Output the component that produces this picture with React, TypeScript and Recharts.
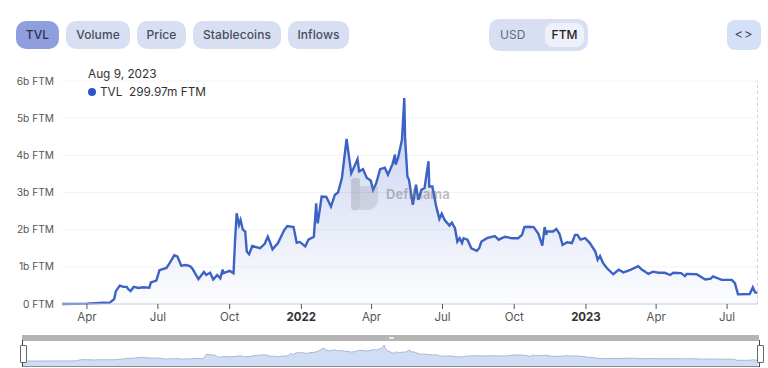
import { Area, AreaChart, CartesianGrid, ReferenceLine, XAxis, YAxis } from 'recharts'

// days since Jan 1 2021
const days = [
  58, 90, 111, 119, 125, 127, 132, 137, 141, 143, 146, 150, 156, 162, 170, 172, 179, 183, 192, 196, 202, 206, 211, 217,
  222, 225, 233, 240, 243, 248, 252, 257, 261, 264, 265, 273, 278, 280, 282, 285, 287, 290, 293, 295, 298, 302, 312,
  318, 322, 325, 328, 335, 343, 347, 355, 359, 363, 370, 374, 381, 384, 385, 386, 391, 397, 403, 408, 412, 417, 423,
  426, 429, 434, 437, 439, 444, 449, 454, 457, 461, 466, 472, 476, 482, 485, 486, 489, 494, 495, 497, 498, 501, 503,
  508, 512, 515, 519, 523, 528, 529, 533, 538, 542, 545, 549, 555, 558, 562, 565, 568, 571, 573, 578, 583, 590, 593,
  596, 603, 613, 618, 626, 635, 643, 648, 651, 656, 663, 669, 674, 677, 679, 680, 684, 688, 692, 696, 700, 706, 712,
  716, 719, 723, 729, 735, 742, 745, 748, 752, 757, 765, 772, 778, 787, 797, 802, 806, 810, 816, 823, 831, 838, 842,
  852, 857, 859, 872, 883, 890, 893, 904, 917, 921, 925, 940, 944, 947, 950,
]
const tvl = [
  0, 0.01, 0.035, 0.03, 0.135, 0.34, 0.495, 0.46, 0.46, 0.4, 0.35, 0.46, 0.43, 0.45, 0.44, 0.58, 0.63, 0.91, 0.97, 1.1,
  1.31, 1.28, 1.03, 1.05, 1.02, 0.96, 0.67, 0.86, 0.78, 0.84, 0.66, 0.78, 0.69, 0.93, 0.83, 0.89, 0.83, 1.73, 2.44,
  2.13, 2.26, 2.0, 1.95, 1.41, 1.34, 1.56, 1.5, 1.62, 1.81, 1.65, 1.47, 1.64, 1.99, 2.1, 2.07, 1.65, 1.67, 1.55, 1.73,
  1.81, 2.71, 2.31, 2.17, 2.89, 2.88, 2.62, 2.94, 3.0, 3.39, 4.44, 3.97, 3.52, 3.75, 3.9, 3.57, 3.63, 3.39, 3.32, 3.07,
  3.25, 3.63, 3.67, 3.48, 3.77, 4.02, 3.75, 3.93, 4.42, 4.78, 5.54, 4.47, 3.43, 3.34, 2.67, 3.21, 2.8, 3.07, 3.12, 3.84,
  3.16, 3.16, 2.62, 2.29, 2.43, 2.25, 2.11, 2.19, 2.04, 1.68, 1.77, 1.64, 1.77, 1.73, 1.5, 1.43, 1.5, 1.68, 1.77, 1.83,
  1.73, 1.81, 1.77, 1.77, 1.86, 2.07, 2.08, 2.07, 1.89, 1.57, 2.07, 1.86, 1.95, 1.95, 1.95, 2.02, 1.89, 1.59, 1.66,
  1.64, 1.86, 1.86, 1.73, 1.77, 1.64, 1.41, 1.19, 1.29, 1.1, 0.96, 0.8, 0.92, 0.85, 0.92, 1.02, 0.92, 0.87, 0.81, 0.87,
  0.84, 0.84, 0.78, 0.84, 0.83, 0.75, 0.81, 0.8, 0.66, 0.68, 0.74, 0.65, 0.65, 0.56, 0.26, 0.27, 0.45, 0.31, 0.3,
]
const xTicks = [90, 181, 273, 365, 455, 546, 638, 730, 820, 911]
const xLabels = ['Apr', 'Jul', 'Oct', '2022', 'Apr', 'Jul', 'Oct', '2023', 'Apr', 'Jul']
const yTicks = [0, 1, 2, 3, 4, 5, 6]
const tabs = [
  { label: 'TVL', left: 16, width: 43, active: true },
  { label: 'Volume', left: 66, width: 64 },
  { label: 'Price', left: 137, width: 49 },
  { label: 'Stablecoins', left: 193, width: 88 },
  { label: 'Inflows', left: 288, width: 61 },
]

const data = days.map((day, i) => ({ day, tvl: tvl[i] }))
const font = 'Inter, "Noto Sans", sans-serif'

function XTick({ x, y, payload }: any) {
  const label = xLabels[xTicks.indexOf(payload.value)]
  const isYear = label.length === 4
  return (
    <text x={x} y={y + 10} textAnchor="middle" fontFamily={font} fontSize={11.5} fontWeight={isYear ? 700 : 400} fill={isYear ? '#333' : '#555'}>
      {label}
    </text>
  )
}

function box(left: number, top: number, width: number, height: number, style: React.CSSProperties = {}) {
  return { position: 'absolute', left, top, width, height, ...style } as React.CSSProperties
}

function Handle({ left }: { left: number }) {
  return (
    <>
      <div style={box(left, 340, 1, 27, { background: '#444' })} />
      <div style={box(left - 2, 345, 5, 16, { background: '#fff', border: '1px solid #666', borderRadius: 1 })} />
    </>
  )
}

export default function App() {
  return (
    <div style={{ position: 'fixed', left: 0, top: 0, width: 768, height: 368, overflow: 'hidden', background: '#fff', fontFamily: font }}>
      {tabs.map((t) => (
        <div
          key={t.label}
          style={box(t.left, 21, t.width, 28, {
            background: t.active ? '#8f9fdd' : '#d9dff3',
            borderRadius: 10,
            color: t.active ? '#2c3350' : '#474d5e',
            fontSize: 12,
            fontWeight: 500,
            letterSpacing: 0.1,
            lineHeight: '28px',
            textAlign: 'center',
          })}
        >
          {t.label}
        </div>
      ))}

      <div style={box(489, 19, 99, 32, { background: '#d9dff3', borderRadius: 10 })} />
      <div style={box(545, 23, 39, 24, { background: '#eef0fa', borderRadius: 8 })} />
      <div style={box(500, 19, 30, 32, { color: '#666c7c', fontSize: 12, lineHeight: '32px' })}>USD</div>
      <div style={box(545, 19, 39, 32, { color: '#222', fontSize: 12, fontWeight: 500, lineHeight: '32px', textAlign: 'center' })}>FTM</div>
      <div style={box(727, 20, 34, 30, { background: '#d3e0f7', borderRadius: 8, color: '#445', fontSize: 13, letterSpacing: 1, lineHeight: '29px', textAlign: 'center' })}>{'<>'}</div>

      <div style={{ position: 'absolute', left: 0, top: 0 }}>
        <AreaChart width={768} height={340} data={data} margin={{ top: 81, right: 10.5, bottom: 0, left: 0 }}>
          <defs>
            <linearGradient id="tvlFill" x1="0" y1="0" x2="0" y2="1">
              <stop offset="0%" stopColor="#3f62c8" stopOpacity={0.5} />
              <stop offset="100%" stopColor="#3f62c8" stopOpacity={0.02} />
            </linearGradient>
          </defs>
          <CartesianGrid vertical={false} stroke="#f3f3f5" />
          <XAxis
            dataKey="day"
            type="number"
            domain={[58, 950]}
            ticks={xTicks}
            height={36}
            interval={0}
            tick={<XTick />}
            tickLine={{ stroke: '#555' }}
            tickSize={5}
            axisLine={{ stroke: '#cdd2e0' }}
          />
          <YAxis
            type="number"
            domain={[0, 6]}
            ticks={yTicks}
            width={62}
            tickFormatter={(v: number) => (v === 0 ? '0 FTM' : `${v}b FTM`)}
            tick={{ fontFamily: font, fontSize: 10.2, fill: '#555' }}
            axisLine={false}
            tickLine={false}
          />
          <ReferenceLine x={950} stroke="#cfcfcf" strokeDasharray="3 3" />
          <Area dataKey="tvl" type="linear" stroke="#3b62c4" strokeWidth={2.4} fill="url(#tvlFill)" isAnimationActive={false} dot={false} />
        </AreaChart>
      </div>

      <div style={box(88, 66, 160, 16, { color: '#333', fontSize: 11.8, lineHeight: '16px' })}>Aug 9, 2023</div>
      <div style={box(88, 88, 8, 8, { background: '#2f55c4', borderRadius: '50%' })} />
      <div style={box(100, 84, 160, 16, { color: '#333', fontSize: 11.8, lineHeight: '16px', whiteSpace: 'pre' })}>TVL  299.97m FTM</div>

      {/* watermark */}
      <div style={box(351, 178, 9, 32, { background: 'rgba(130,130,140,0.3)', borderRadius: 3 })} />
      <div style={box(360, 186, 18, 24, { background: 'rgba(130,130,140,0.22)', borderRadius: '2px 2px 10px 2px' })} />
      <div style={box(386, 186, 80, 16, { color: 'rgba(110,110,120,0.45)', fontSize: 13, fontWeight: 700, lineHeight: '16px' })}>DefiLlama</div>

      {/* range slider */}
      <div style={box(22, 335, 737, 6, { background: '#b4b4b4' })} />
      <div style={box(389, 337, 5, 2, { background: '#e8e8e8' })} />
      <div style={{ position: 'absolute', left: 22, top: 345 }}>
        <AreaChart width={736} height={21} data={data} margin={{ top: 0, right: 0, bottom: 0, left: 0 }}>
          <XAxis dataKey="day" type="number" domain={[58, 950]} hide />
          <YAxis type="number" domain={[-1.7, 5.5]} hide />
          <Area dataKey="tvl" type="linear" baseValue={-1.7} stroke="#a9b9d4" strokeWidth={1} fill="#d0ddf4" fillOpacity={1} isAnimationActive={false} dot={false} />
        </AreaChart>
      </div>
      <div style={box(22, 366, 737, 1, { background: '#8c8c8c' })} />
      <Handle left={22} />
      <Handle left={759} />
    </div>
  )
}
